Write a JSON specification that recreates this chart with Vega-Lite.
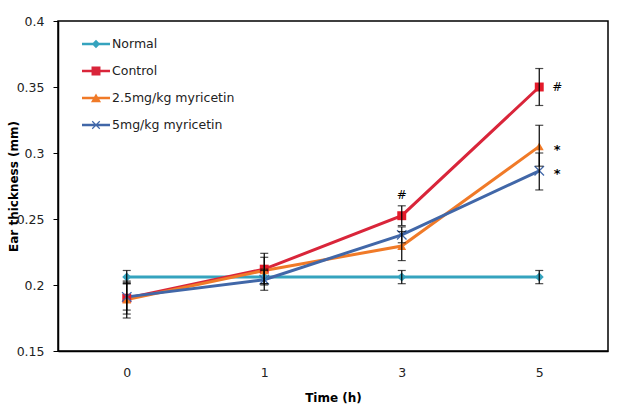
{
  "$schema": "https://vega.github.io/schema/vega-lite/v6.json",
  "width": 550,
  "height": 330,
  "autosize": {"type": "none"},
  "padding": {"left": 58, "top": 21, "right": 18, "bottom": 58},
  "config": {
    "view": {"stroke": "black", "strokeWidth": 1.5},
    "axis": {"grid": false, "domainColor": "black", "tickColor": "black", "labelColor": "#222", "labelFont": "DejaVu Sans", "labelFontSize": 12.5, "titleFont": "DejaVu Sans", "titleFontSize": 12, "titleFontWeight": "bold", "titleColor": "black"},
    "legend": {"labelFont": "DejaVu Sans"}
  },
  "data": {"values": [
      {"time": "0", "group": "Normal", "mean": 0.206, "lo": 0.201, "hi": 0.211},
      {"time": "1", "group": "Normal", "mean": 0.206, "lo": 0.201, "hi": 0.211},
      {"time": "3", "group": "Normal", "mean": 0.206, "lo": 0.201, "hi": 0.211},
      {"time": "5", "group": "Normal", "mean": 0.206, "lo": 0.201, "hi": 0.211},
      {"time": "0", "group": "Control", "mean": 0.190, "lo": 0.178, "hi": 0.202},
      {"time": "1", "group": "Control", "mean": 0.212, "lo": 0.200, "hi": 0.224},
      {"time": "3", "group": "Control", "mean": 0.2525, "lo": 0.245, "hi": 0.260},
      {"time": "5", "group": "Control", "mean": 0.350, "lo": 0.336, "hi": 0.364},
      {"time": "0", "group": "2.5mg/kg myricetin", "mean": 0.189, "lo": 0.175, "hi": 0.203},
      {"time": "1", "group": "2.5mg/kg myricetin", "mean": 0.211, "lo": 0.201, "hi": 0.221},
      {"time": "3", "group": "2.5mg/kg myricetin", "mean": 0.2295, "lo": 0.2185, "hi": 0.2405},
      {"time": "5", "group": "2.5mg/kg myricetin", "mean": 0.305, "lo": 0.290, "hi": 0.321},
      {"time": "0", "group": "5mg/kg myricetin", "mean": 0.191, "lo": 0.181, "hi": 0.201},
      {"time": "1", "group": "5mg/kg myricetin", "mean": 0.204, "lo": 0.196, "hi": 0.212},
      {"time": "3", "group": "5mg/kg myricetin", "mean": 0.238, "lo": 0.232, "hi": 0.244},
      {"time": "5", "group": "5mg/kg myricetin", "mean": 0.2865, "lo": 0.272, "hi": 0.300}
  ]},
  "layer": [
    {
      "transform": [{"filter": "datum.group === 'Normal'"}],
      "mark": {"type": "line", "strokeWidth": 3, "color": "#35A3BE"},
      "encoding": {
        "x": {"field": "time", "type": "ordinal",
          "scale": {"type": "point", "padding": 0.5},
          "axis": {"title": "Time (h)", "labelAngle": 0, "ticks": false, "labelPadding": 15, "labelBaseline": "top", "titleY": 46, "titleBaseline": "middle", "domainWidth": 1.5}},
        "y": {"field": "mean", "type": "quantitative",
          "scale": {"domain": [0.15, 0.4], "nice": false, "zero": false},
          "axis": {"title": "Ear thickness (mm)", "values": [0.15, 0.2, 0.25, 0.3, 0.35, 0.4], "format": ".2~f", "tickSize": 5, "labelPadding": 9, "titleX": -45, "titleY": 165, "titleAngle": -90, "titleAlign": "center", "titleBaseline": "middle", "domainWidth": 1.5}}
      }
    },
    {
      "transform": [{"filter": "datum.group === 'Control'"}],
      "mark": {"type": "line", "strokeWidth": 3, "color": "#D9253A"},
      "encoding": {"x": {"field": "time", "type": "ordinal"}, "y": {"field": "mean", "type": "quantitative"}}
    },
    {
      "transform": [{"filter": "datum.group === '2.5mg/kg myricetin'"}],
      "mark": {"type": "line", "strokeWidth": 3, "color": "#F07A28"},
      "encoding": {"x": {"field": "time", "type": "ordinal"}, "y": {"field": "mean", "type": "quantitative"}}
    },
    {
      "transform": [{"filter": "datum.group === '5mg/kg myricetin'"}],
      "mark": {"type": "line", "strokeWidth": 3, "color": "#4167A8"},
      "encoding": {"x": {"field": "time", "type": "ordinal"}, "y": {"field": "mean", "type": "quantitative"}}
    },
    {
      "transform": [{"filter": "datum.group === 'Normal'"}],
      "mark": {"type": "point", "shape": "diamond", "filled": true, "size": 80, "color": "#35A3BE", "opacity": 1},
      "encoding": {"x": {"field": "time", "type": "ordinal"}, "y": {"field": "mean", "type": "quantitative"}}
    },
    {
      "transform": [{"filter": "datum.group === 'Control'"}],
      "mark": {"type": "point", "shape": "square", "filled": true, "size": 80, "color": "#E31B2A", "opacity": 1},
      "encoding": {"x": {"field": "time", "type": "ordinal"}, "y": {"field": "mean", "type": "quantitative"}}
    },
    {
      "transform": [{"filter": "datum.group === '2.5mg/kg myricetin'"}],
      "mark": {"type": "point", "shape": "triangle-up", "filled": true, "size": 80, "color": "#F07A28", "opacity": 1},
      "encoding": {"x": {"field": "time", "type": "ordinal"}, "y": {"field": "mean", "type": "quantitative"}}
    },
    {
      "transform": [{"filter": "datum.group === '5mg/kg myricetin'"}],
      "mark": {"type": "point", "shape": "M-1,-1L1,1M1,-1L-1,1", "filled": false, "size": 90, "color": "#4167A8", "strokeWidth": 1.3, "opacity": 1},
      "encoding": {"x": {"field": "time", "type": "ordinal"}, "y": {"field": "mean", "type": "quantitative"}}
    },
    {
      "mark": {"type": "rule", "color": "black", "strokeWidth": 1.2},
      "encoding": {"x": {"field": "time", "type": "ordinal"}, "y": {"field": "lo", "type": "quantitative"}, "y2": {"field": "hi"}}
    },
    {
      "mark": {"type": "tick", "color": "black", "size": 8, "thickness": 1.2, "orient": "horizontal"},
      "encoding": {"x": {"field": "time", "type": "ordinal"}, "y": {"field": "lo", "type": "quantitative"}}
    },
    {
      "mark": {"type": "tick", "color": "black", "size": 8, "thickness": 1.2, "orient": "horizontal"},
      "encoding": {"x": {"field": "time", "type": "ordinal"}, "y": {"field": "hi", "type": "quantitative"}}
    },
    {
      "data": {"values": [{"time": "3", "y": 0.268, "label": "#"}]},
      "mark": {"type": "text", "font": "DejaVu Sans", "fontSize": 12, "color": "black", "baseline": "middle", "align": "center"},
      "encoding": {"x": {"field": "time", "type": "ordinal"}, "y": {"field": "y", "type": "quantitative"}, "text": {"field": "label"}}
    },
    {
      "data": {"values": [{"time": "5", "y": 0.350, "label": "#"}]},
      "mark": {"type": "text", "font": "DejaVu Sans", "fontSize": 12, "color": "black", "baseline": "middle", "align": "center", "dx": 18},
      "encoding": {"x": {"field": "time", "type": "ordinal"}, "y": {"field": "y", "type": "quantitative"}, "text": {"field": "label"}}
    },
    {
      "data": {"values": [{"time": "5", "y": 0.3045, "label": "*"}, {"time": "5", "y": 0.2864, "label": "*"}]},
      "mark": {"type": "text", "font": "DejaVu Sans", "fontSize": 13, "fontWeight": "bold", "color": "black", "baseline": "middle", "align": "center", "dx": 18, "dy": 3},
      "encoding": {"x": {"field": "time", "type": "ordinal"}, "y": {"field": "y", "type": "quantitative"}, "text": {"field": "label"}}
    },
    {
      "mark": {"type": "point", "filled": true, "opacity": 0, "size": 784},
      "encoding": {
        "x": {"field": "time", "type": "ordinal"},
        "y": {"field": "mean", "type": "quantitative"},
        "color": {"field": "group", "type": "nominal",
          "scale": {"domain": ["Normal", "Control", "2.5mg/kg myricetin", "5mg/kg myricetin"], "range": ["#35A3BE", "#D9253A", "#F07A28", "#4167A8"]},
          "legend": {"orient": "none", "legendX": 24, "legendY": 9, "title": null, "symbolSize": 784, "symbolOpacity": 1, "symbolStrokeWidth": 0, "labelFontSize": 12.5, "labelColor": "#222", "labelOffset": 2, "rowPadding": 6}},
        "shape": {"field": "group", "type": "nominal",
          "scale": {"domain": ["Normal", "Control", "2.5mg/kg myricetin", "5mg/kg myricetin"],
            "range": [
              "M-1,-0.09H1V0.09H-1Z M0,-0.3L0.3,0L0,0.3L-0.3,0Z",
              "M-1,-0.09H1V0.09H-1Z M-0.32,-0.32H0.32V0.32H-0.32Z",
              "M-1,-0.09H1V0.09H-1Z M0,-0.33L0.36,0.3H-0.36Z",
              "M-1,-0.09H1V0.09H-1Z M-0.3,-0.24L-0.24,-0.3L0.3,0.24L0.24,0.3Z M0.24,-0.3L0.3,-0.24L-0.24,0.3L-0.3,0.24Z"
            ]},
          "legend": {"orient": "none", "legendX": 24, "legendY": 9, "title": null, "symbolSize": 784, "symbolOpacity": 1, "symbolStrokeWidth": 0, "labelFontSize": 12.5, "labelColor": "#222", "labelOffset": 2, "rowPadding": 6}}
      }
    }
  ]
}
